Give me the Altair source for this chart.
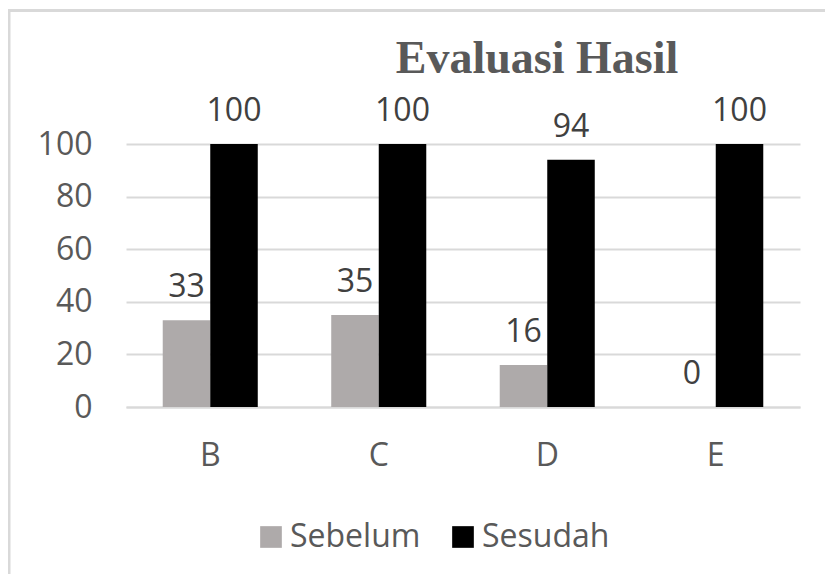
import altair as alt
import pandas as pd

categories = ["B", "C", "D", "E"]
sebelum = [33, 35, 16, 0]
sesudah = [100, 100, 94, 100]
series_names = ["Sebelum", "Sesudah"]
title_text = "Evaluasi Hasil"

rows = []
for c, a, b in zip(categories, sebelum, sesudah):
    rows.append({"kategori": c, "seri": series_names[0], "nilai": a})
    rows.append({"kategori": c, "seri": series_names[1], "nilai": b})
df = pd.DataFrame(rows)

FONT = "Open Sans"
FS = 32
TXT = "#595959"
GRID = "#d9d9d9"

x_enc = alt.X("kategori:N", sort=categories,
              scale=alt.Scale(paddingInner=0.436, paddingOuter=0.218),
              axis=alt.Axis(title=None, labelAngle=0, labelFont=FONT, labelFontSize=FS,
                            labelColor=TXT, labelPadding=33, ticks=False,
                            domainColor=GRID, domainWidth=2))
y_enc = alt.Y("nilai:Q", scale=alt.Scale(domain=[0, 100], nice=False),
              axis=alt.Axis(title=None, values=[0, 20, 40, 60, 80, 100], labelFont=FONT,
                            labelFontSize=FS, labelColor=TXT, labelPadding=34, ticks=False,
                            domain=False, gridColor=GRID, gridWidth=2))
color_enc = alt.Color("seri:N", sort=series_names,
                      scale=alt.Scale(domain=series_names, range=["#aeaaaa", "#000000"]),
                      legend=alt.Legend(title=None, orient="none", legendX=129, legendY=377,
                                        direction="horizontal", symbolType="square",
                                        symbolSize=470, symbolStrokeWidth=0,
                                        labelFont=FONT, labelFontSize=FS, labelColor=TXT,
                                        labelOffset=3, columnPadding=26))

base = alt.Chart(df)
bars = base.mark_bar(stroke=None).encode(
    x=x_enc, xOffset=alt.XOffset("seri:N", sort=series_names), y=y_enc, color=color_enc)
labels = base.mark_text(font=FONT, fontSize=FS, color="#404040", baseline="alphabetic",
                        dy=-23).encode(
    x=alt.X("kategori:N", sort=categories), xOffset=alt.XOffset("seri:N", sort=series_names),
    y="nilai:Q", text="nilai:Q")

title_df = pd.DataFrame({"t": [title_text]})
title = alt.Chart(title_df).mark_text(font="Liberation Serif", fontWeight="bold", fontSize=46,
                                      color=TXT, baseline="alphabetic", align="center").encode(
    text="t:N", x=alt.value(411), y=alt.value(-71))

frame_df = pd.DataFrame({"k": [0]})
left_line = alt.Chart(frame_df).mark_rule(color=GRID, strokeWidth=3).encode(
    x=alt.value(-117), y=alt.value(-135), y2=alt.value(430))
top_line = alt.Chart(frame_df).mark_rule(color=GRID, strokeWidth=3).encode(
    x=alt.value(-118.5), x2=alt.value(700), y=alt.value(-133.5))

chart = alt.layer(left_line, top_line, bars, labels, title).properties(
    width=674, height=263,
    autosize=alt.AutoSizeParams(type="none"),
    padding={"left": 118, "top": 136, "right": 25, "bottom": 168},
).configure(background="white").configure_view(stroke=None)

chart.save("out.html", embed_options={"renderer": "svg", "actions": False})
